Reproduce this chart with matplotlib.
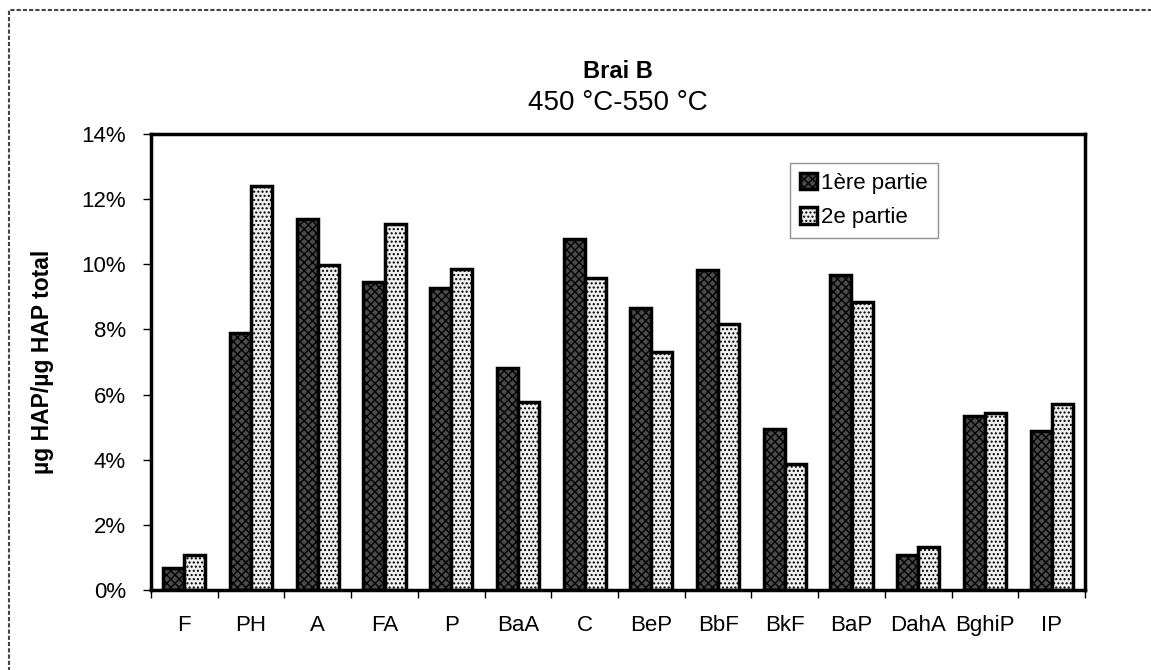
import matplotlib.pyplot as plt
import numpy as np
from matplotlib.patches import Rectangle
from matplotlib.ticker import PercentFormatter, FixedLocator

plt.rcParams['font.family'] = ['Liberation Sans', 'DejaVu Sans']
plt.rcParams['hatch.linewidth'] = 1.0

categories = ['F', 'PH', 'A', 'FA', 'P', 'BaA', 'C', 'BeP', 'BbF', 'BkF',
              'BaP', 'DahA', 'BghiP', 'IP']
partie1 = [0.67, 7.9, 11.4, 9.46, 9.26, 6.83, 10.77, 8.65, 9.82, 4.94,
           9.67, 1.06, 5.35, 4.87]
partie2 = [1.06, 12.4, 9.98, 11.23, 9.87, 5.76, 9.57, 7.32, 8.18, 3.88,
           8.83, 1.33, 5.44, 5.71]
series_names = ['1ère partie', '2e partie']

fig = plt.figure(figsize=(11.51, 6.70), dpi=100)
ax = fig.add_axes([151 / 1151, 1 - 590 / 670, 934 / 1151, 456 / 670])

x = np.arange(len(categories))
w = 0.315
ax.bar(x - w / 2, partie1, width=w, color='#4a4a4a', edgecolor='black',
       hatch='xxxx', linewidth=2.5, label=series_names[0])
ax.bar(x + w / 2, partie2, width=w, color='#f0f0f0', edgecolor='black',
       hatch='....', linewidth=2.5, label=series_names[1])

ax.set_xlim(-0.5, len(categories) - 0.5)
ax.set_ylim(0, 14)
ax.yaxis.set_major_formatter(PercentFormatter(decimals=0))
ax.set_yticks(np.arange(0, 15, 2))
ax.set_xticks(x)
ax.set_xticklabels(categories, fontsize=16)
ax.xaxis.set_minor_locator(FixedLocator(np.arange(-0.5, len(categories), 1)))
ax.tick_params(axis='x', which='major', length=0, pad=18)
ax.tick_params(axis='x', which='minor', length=6, width=1, direction='out')
ax.tick_params(axis='y', labelsize=16, length=6, width=1, direction='out', pad=12)
for s in ax.spines.values():
    s.set_linewidth(2.5)

ax.set_ylabel('µg HAP/µg HAP total', fontsize=16.5, fontweight='bold', labelpad=20)

fig.text(618 / 1151, 1 - 72 / 670, 'Brai B', fontsize=17, fontweight='bold',
         ha='center', va='center')
fig.text(618 / 1151, 1 - 103 / 670, '450 °C-550 °C', fontsize=20,
         ha='center', va='center')

leg = ax.legend(loc='upper left', bbox_to_anchor=(639 / 934, 1 - 29 / 456),
                fontsize=16, frameon=True, fancybox=False, handlelength=0.75,
                handleheight=0.75, handletextpad=0.2, borderpad=0.45,
                labelspacing=0.6, borderaxespad=0)
leg.get_frame().set_edgecolor('#777777')
leg.get_frame().set_linewidth(1)

# outer chart frame (only top and left visible in the scan)
fig.patches.append(Rectangle((9 / 1151, -0.1), 1.2, 1 - 10 / 670 + 0.1,
                             transform=fig.transFigure, fill=False,
                             edgecolor='#444444', linewidth=1.5,
                             linestyle=(0, (2, 1))))

fig.savefig('out.png', dpi=100)
